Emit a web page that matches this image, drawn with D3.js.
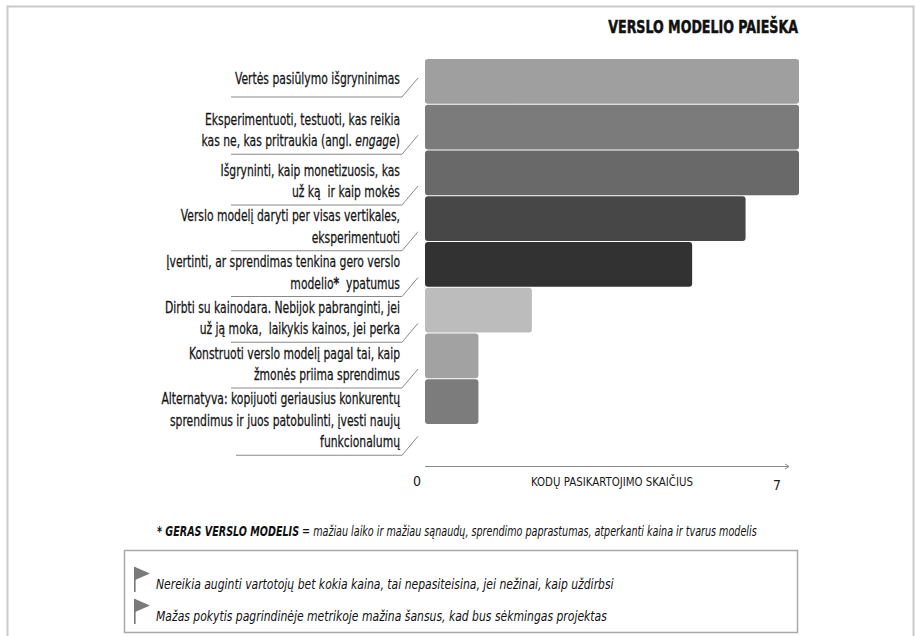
<!DOCTYPE html>
<html>
<head>
<meta charset="utf-8">
<script src="https://cdn.jsdelivr.net/npm/d3@7"></script>
<style>
  html, body { margin: 0; padding: 0; background: #fff; }
  svg text { font-family: "DejaVu Sans Condensed", "Liberation Sans Narrow", "DejaVu Sans", sans-serif; white-space: pre; }
</style>
</head>
<body>
<svg id="chart" width="916" height="636"></svg>
<script>
// Stages of the business-model search, top to bottom ({i:..} italic, {b:..} bold)
const categories = [
  ["Vertės pasiūlymo išgryninimas"],
  ["Eksperimentuoti, testuoti, kas reikia", "kas ne, kas pritraukia (angl. {i:engage})"],
  ["Išgryninti, kaip monetizuosis, kas", "už ką  ir kaip mokės"],
  ["Verslo modelį daryti per visas vertikales,", "eksperimentuoti"],
  ["Įvertinti, ar sprendimas tenkina gero verslo", "modelio{b:*}  ypatumus"],
  ["Dirbti su kainodara. Nebijok pabranginti, jei", "už ją moka,  laikykis kainos, jei perka"],
  ["Konstruoti verslo modelį pagal tai, kaip", "žmonės priima sprendimus"],
  ["Alternatyva: kopijuoti geriausius konkurentų", "sprendimus ir juos patobulinti, įvesti naujų", "funkcionalumų"]
];
// Number of code repetitions per stage
const values = [7, 7, 7, 6, 5, 2, 1, 1];
const shades = ["#9f9f9f", "#7b7b7b", "#696969", "#474747", "#323232", "#bcbcbc", "#a2a2a2", "#7c7c7c"];
const tickValues = [0, 7];
const tickLabels = ["0", "7"];
const title = "VERSLO MODELIO PAIEŠKA";
const axisTitle = "KODŲ PASIKARTOJIMO SKAIČIUS";
const footBold = "* GERAS VERSLO MODELIS";
const footText = " = mažiau laiko ir mažiau sąnaudų, sprendimo paprastumas, atperkanti kaina ir tvarus modelis";
const notes = [
  "Nereikia auginti vartotojų bet kokia kaina, tai nepasiteisina, jei nežinai, kaip uždirbsi",
  "Mažas pokytis pagrindinėje metrikoje mažina šansus, kad bus sėkmingas projektas"
];

const svg = d3.select("#chart");

// condensed text: a group placed at (x, y) and squeezed horizontally
function squeezed(parent, px, py, sx) {
  return parent.append("g")
    .attr("transform", `translate(${px},${py}) scale(${sx},1)`)
    .append("text").attr("x", 0).attr("y", 0);
}

// outer frame
svg.append("path")
  .attr("d", "M7.5,640 V6.5 H913.5 V640")
  .attr("fill", "none").attr("stroke", "#c9c9c9").attr("stroke-width", 2);

const x = d3.scaleLinear().domain([0, 7]).range([425, 799]);
const y = d3.scaleBand().domain(d3.range(values.length)).range([59, 424]).paddingInner(0.022);

// title
squeezed(svg, 798, 33, 0.78)
  .attr("text-anchor", "end")
  .attr("font-size", 18).attr("font-weight", 700)
  .attr("fill", "#111").attr("stroke", "#111").attr("stroke-width", 0.5)
  .text(title);

// bars
svg.append("g").selectAll("rect")
  .data(values)
  .join("rect")
  .attr("x", x(0))
  .attr("y", (d, i) => y(i))
  .attr("width", d => x(d) - x(0))
  .attr("height", y.bandwidth())
  .attr("rx", 3)
  .attr("fill", (d, i) => shades[i]);

// write a line that may hold {i:..} / {b:..} runs
function richLine(sel, str) {
  const re = /\{([ib]):(.*?)\}/g;
  let last = 0, m;
  while ((m = re.exec(str)) !== null) {
    if (m.index > last) sel.append("tspan").text(str.slice(last, m.index));
    const t = sel.append("tspan").text(m[2]);
    if (m[1] === "i") t.attr("font-style", "italic");
    else t.attr("font-weight", 700);
    last = re.lastIndex;
  }
  if (last < str.length) sel.append("tspan").text(str.slice(last));
}

// category labels with leader lines
const lineH = 21.5;
const labels = svg.append("g").selectAll("g")
  .data(categories)
  .join("g");

labels.each(function (lines, i) {
  const g = d3.select(this);
  // two-line second label sits a little higher in its band
  const first = y(i) + (i === 1 ? 20 : 25);
  lines.forEach((ln, k) => {
    const t = squeezed(g, 400, first + k * lineH, 0.8)
      .attr("text-anchor", "end")
      .attr("font-size", 15).attr("fill", "#151515")
      .attr("stroke", "#151515").attr("stroke-width", 0.25);
    richLine(t, ln);
  });
  const uy = first + (lines.length - 1) * lineH + (i === 0 ? 13 : 8);
  g.append("path")
    .attr("d", `M${i === categories.length - 1 ? 236 : 231},${uy} H402 L418,${uy - 19}`)
    .attr("fill", "none").attr("stroke", "#8a8a8a").attr("stroke-width", 1);
});

// x axis
svg.append("path")
  .attr("d", `M${x(0)},466.5 H788`)
  .attr("stroke", "#8a8a8a").attr("stroke-width", 1);
svg.append("path")
  .attr("d", "M785,464 L789,466.5 L785,469")
  .attr("fill", "none").attr("stroke", "#8a8a8a").attr("stroke-width", 1);

svg.append("g").selectAll("text")
  .data(tickValues)
  .join("text")
  .attr("x", (d, i) => i === 0 ? x(d) - 8 : x(d) - 22)
  .attr("y", (d, i) => i === 0 ? 486 : 490)
  .attr("text-anchor", "middle")
  .attr("font-size", 14).attr("fill", "#1a1a1a")
  .text((d, i) => tickLabels[i]);

squeezed(svg, 612, 486, 0.875)
  .attr("text-anchor", "middle")
  .attr("font-size", 13).attr("fill", "#1a1a1a")
  .text(axisTitle);

// footnote
const foot = squeezed(svg, 157, 536, 0.79)
  .attr("font-size", 13.5).attr("font-style", "italic").attr("fill", "#111");
foot.append("tspan").attr("font-weight", 700).text(footBold);
foot.append("tspan").text(footText);

// notes box
svg.append("rect")
  .attr("x", 124.5).attr("y", 550.5)
  .attr("width", 673).attr("height", 82)
  .attr("fill", "none").attr("stroke", "#a9a9a9").attr("stroke-width", 1.5);

const noteG = svg.append("g").selectAll("g")
  .data(notes)
  .join("g")
  .attr("transform", (d, i) => `translate(0,${i * 32})`);
noteG.append("rect")
  .attr("x", 134).attr("y", 567).attr("width", 1.6).attr("height", 25)
  .attr("fill", "#777");
noteG.append("path")
  .attr("d", "M135,567 L150,573.5 L135,580 Z")
  .attr("fill", "#7a7a7a");
noteG.each(function (d) {
  squeezed(d3.select(this), 156, 589, 0.86)
    .attr("font-size", 14).attr("font-style", "italic").attr("fill", "#111")
    .text(d);
});
</script>
</body>
</html>
